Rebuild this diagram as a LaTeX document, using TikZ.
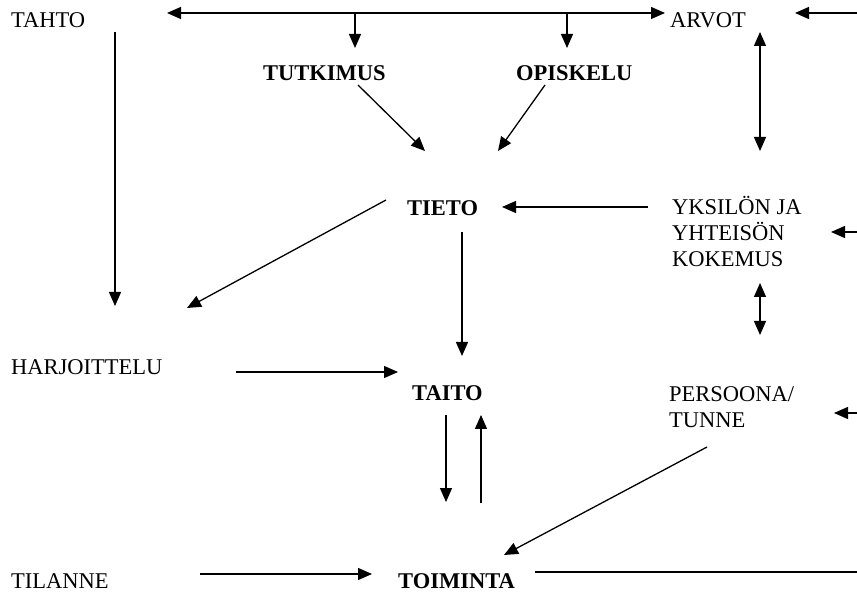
\documentclass[tikz,border=0pt]{standalone}
\usepackage{fontspec}
\setmainfont{Liberation Serif}
\usetikzlibrary{arrows.meta}

\begin{document}
\begin{tikzpicture}[x=1pt,y=-1pt,
        every node/.style={inner sep=0pt, anchor=base west, font=\fontsize{22.5}{26}\selectfont},
        key/.style={font=\fontsize{22.5}{26}\selectfont\bfseries},
        arr/.style={-{Triangle[length=14pt,width=12pt]}, line width=1.3pt},
        darr/.style={{Triangle[length=14pt,width=12pt]}-{Triangle[length=14pt,width=12pt]}, line width=1.3pt}]
        \useasboundingbox (0,0) rectangle (857,593);

        % texts
        \node (tahto) at (11,28) {TAHTO};
        \node (arvot) at (670,28) {ARVOT};
        \node[key] (tutkimus) at (263,81) {TUTKIMUS};
        \node[key] (opiskelu) at (516,81) {OPISKELU};
        \node[key] (tieto) at (407,216) {TIETO};
        \node[align=left] (kokemus) at (672,267) {YKSILÖN JA\\YHTEISÖN\\KOKEMUS};
        \node (harjoittelu) at (11,375) {HARJOITTELU};
        \node[key] (taito) at (412,401) {TAITO};
        \node[align=left] (persoona) at (669,428) {PERSOONA/\\TUNNE};
        \node (tilanne) at (11,588) {TILANNE};
        \node[key] (toiminta) at (398,588) {TOIMINTA};

        % free ends
        \coordinate (A) at (167,13);
        \coordinate (B) at (665,13);
        \coordinate (C) at (355,13);
        \coordinate (D) at (355,48);
        \coordinate (E) at (567,13);
        \coordinate (F) at (567,48);
        \coordinate (G) at (857,13);
        \coordinate (H) at (795,13);
        \coordinate (I) at (358,85);
        \coordinate (J) at (425,151);
        \coordinate (K) at (545,85);
        \coordinate (L) at (498,151);
        \coordinate (M) at (760,32);
        \coordinate (N) at (760,151);
        \coordinate (O) at (115,32);
        \coordinate (P) at (115,306);
        \coordinate (Q) at (648,207);
        \coordinate (R) at (502,207);
        \coordinate (S) at (857,232);
        \coordinate (T) at (831,232);
        \coordinate (U) at (386,200);
        \coordinate (V) at (187,308);
        \coordinate (W) at (462,232);
        \coordinate (X) at (462,356);
        \coordinate (Y) at (760,283);
        \coordinate (Z) at (760,335);
        \coordinate (AA) at (236,372);
        \coordinate (AB) at (398,372);
        \coordinate (AC) at (857,413);
        \coordinate (AD) at (834,413);
        \coordinate (AE) at (446,415);
        \coordinate (AF) at (446,502);
        \coordinate (AG) at (481,503);
        \coordinate (AH) at (481,415);
        \coordinate (AI) at (707,447);
        \coordinate (AJ) at (504,555);
        \coordinate (AK) at (200,574);
        \coordinate (AL) at (372,574);
        \coordinate (AM) at (535,572);
        \coordinate (AN) at (857,572);

        \draw[darr] (A) -- (B);
        \draw[arr] (C) -- (D);
        \draw[arr] (E) -- (F);
        \draw[arr] (G) -- (H);
        \draw[arr] (I) -- (J);
        \draw[arr] (K) -- (L);
        \draw[darr] (M) -- (N);
        \draw[arr] (O) -- (P);
        \draw[arr] (Q) -- (R);
        \draw[arr] (S) -- (T);
        \draw[arr] (U) -- (V);
        \draw[arr] (W) -- (X);
        \draw[darr] (Y) -- (Z);
        \draw[arr] (AA) -- (AB);
        \draw[arr] (AC) -- (AD);
        \draw[arr] (AE) -- (AF);
        \draw[arr] (AG) -- (AH);
        \draw[arr] (AI) -- (AJ);
        \draw[arr] (AK) -- (AL);
        \draw[line width=1.3pt] (AM) -- (AN);

    \end{tikzpicture}
\end{document}
